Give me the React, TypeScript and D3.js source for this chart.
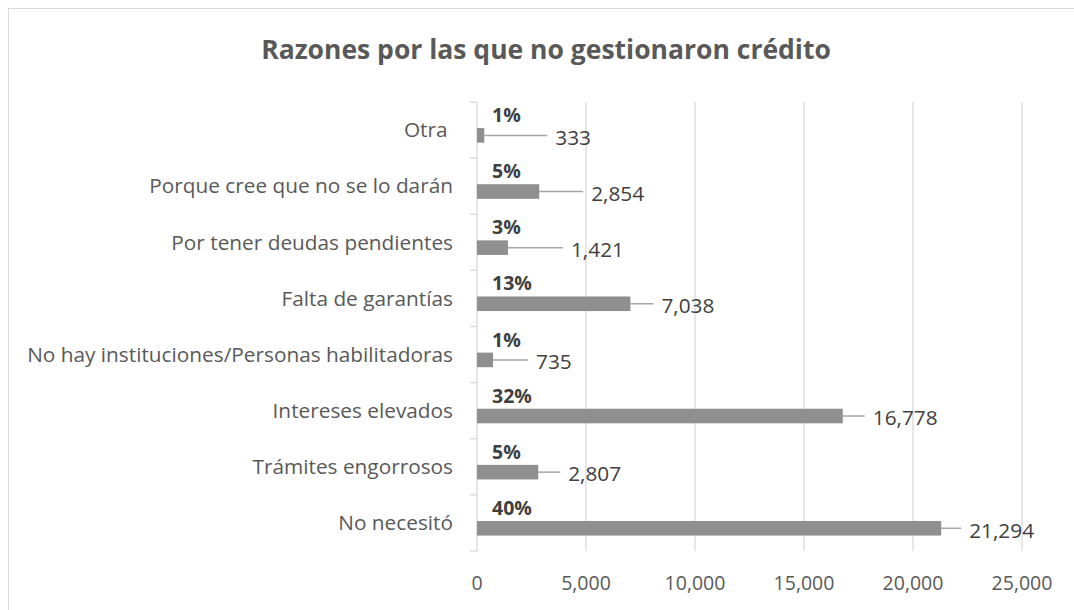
import { useEffect, useRef } from 'react';
import * as d3 from 'd3';

const title = 'Razones por las que no gestionaron crédito';
const categories = [
  'Otra ',
  'Porque cree que no se lo darán',
  'Por tener deudas pendientes',
  'Falta de garantías',
  'No hay instituciones/Personas habilitadoras',
  'Intereses elevados',
  'Trámites engorrosos',
  'No necesitó',
];
const values = [333, 2854, 1421, 7038, 735, 16778, 2807, 21294];
const percents = ['1%', '5%', '3%', '13%', '1%', '32%', '5%', '40%'];
const xTicks = [0, 5000, 10000, 15000, 20000, 25000];

// leader line lengths (px) for the value labels, as placed in the original
const leaderLen = [63, 44, 55, 23, 35, 22, 22, 20];

const FONT = "'Open Sans', 'DejaVu Sans', sans-serif";

const App = () => {
  const ref = useRef<SVGSVGElement>(null);

  useEffect(() => {
    const width = 1074;
    const height = 610;
    const left = 477;
    const right = 1022;
    const top = 102;
    const bottom = 551;

    const svg = d3.select(ref.current);
    svg.selectAll('*').remove();

    svg.append('rect')
      .attr('x', 8.5).attr('y', 8.5)
      .attr('width', width + 20).attr('height', height + 20)
      .attr('fill', '#fff')
      .attr('stroke', '#d9d9d9');

    const x = d3.scaleLinear().domain([0, 25000]).range([left, right]);
    const y = d3.scaleBand<string>().domain(categories).range([top, bottom]);
    const bw = y.bandwidth();

    // title
    svg.append('text')
      .attr('x', 546).attr('y', 59)
      .attr('text-anchor', 'middle')
      .attr('font-family', FONT)
      .attr('font-size', 26.5)
      .attr('font-weight', 'bold')
      .attr('fill', '#595959')
      .text(title);

    // grid lines
    svg.append('g')
      .selectAll('line')
      .data(xTicks.slice(1))
      .join('line')
      .attr('x1', d => x(d)).attr('x2', d => x(d))
      .attr('y1', top).attr('y2', bottom)
      .attr('stroke', '#d9d9d9')
      .attr('stroke-width', 1.3);

    // category axis
    const yAxis = svg.append('g');
    yAxis.append('line')
      .attr('x1', left).attr('x2', left)
      .attr('y1', top).attr('y2', bottom)
      .attr('stroke', '#d9d9d9').attr('stroke-width', 1.3);
    yAxis.selectAll('line.tick')
      .data(d3.range(categories.length + 1))
      .join('line')
      .attr('class', 'tick')
      .attr('x1', left - 7).attr('x2', left)
      .attr('y1', i => top + i * bw).attr('y2', i => top + i * bw)
      .attr('stroke', '#d9d9d9').attr('stroke-width', 1.3);
    yAxis.selectAll('text')
      .data(categories)
      .join('text')
      .attr('x', 453)
      .attr('y', d => (y(d) as number) + bw / 2)
      .attr('dy', '0.35em')
      .attr('text-anchor', 'end')
      .attr('font-family', FONT)
      .attr('font-size', 20.8)
      .attr('fill', '#595959')
      .style('white-space', 'pre')
      .text(d => d);

    // value axis labels
    svg.append('g')
      .selectAll('text')
      .data(xTicks)
      .join('text')
      .attr('x', d => x(d))
      .attr('y', 590)
      .attr('text-anchor', 'middle')
      .attr('font-family', FONT)
      .attr('font-size', 19.5)
      .attr('fill', '#595959')
      .text(d => d3.format(',')(d));

    const barY = (d: string) => (y(d) as number) + bw * 0.465;
    const barH = bw * 0.26;

    // bars
    svg.append('g')
      .selectAll('rect')
      .data(categories)
      .join('rect')
      .attr('x', x(0))
      .attr('y', barY)
      .attr('width', (d, i) => x(values[i]) - x(0))
      .attr('height', barH)
      .attr('fill', '#8f8f8f');

    // leader lines and value labels
    const lab = svg.append('g');
    lab.selectAll('line')
      .data(categories)
      .join('line')
      .attr('x1', (d, i) => x(values[i]))
      .attr('x2', (d, i) => x(values[i]) + leaderLen[i])
      .attr('y1', d => barY(d) + barH / 2)
      .attr('y2', d => barY(d) + barH / 2)
      .attr('stroke', '#a6a6a6')
      .attr('stroke-width', 1.5);
    lab.selectAll('text')
      .data(categories)
      .join('text')
      .attr('x', (d, i) => x(values[i]) + leaderLen[i] + 8)
      .attr('y', d => barY(d) + barH / 2 + 2)
      .attr('dy', '0.35em')
      .attr('font-family', FONT)
      .attr('font-size', 20.8)
      .attr('fill', '#404040')
      .text((d, i) => d3.format(',')(values[i]));

    // percentage labels
    svg.append('g')
      .selectAll('text')
      .data(categories)
      .join('text')
      .attr('x', 492)
      .attr('y', d => barY(d) - 6)
      .attr('font-family', FONT)
      .attr('font-size', 19.5)
      .attr('font-weight', 'bold')
      .attr('fill', '#404040')
      .text((d, i) => percents[i]);
  }, []);

  return (
    <svg
      ref={ref}
      width={1074}
      height={610}
      style={{ position: 'absolute', left: 0, top: 0, display: 'block' }}
    />
  );
};

export default App;
